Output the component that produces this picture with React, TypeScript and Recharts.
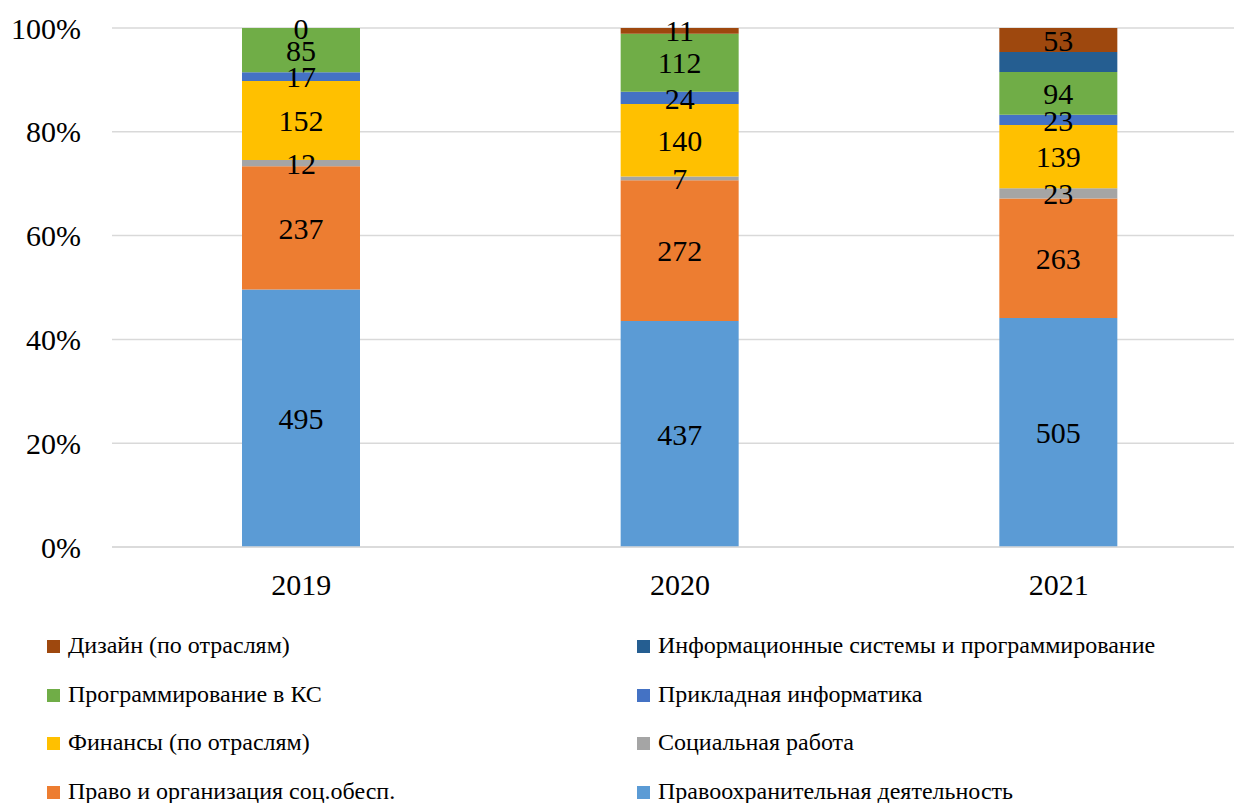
import { BarChart, Bar, XAxis, YAxis, CartesianGrid, LabelList } from "recharts";

const years = ["2019", "2020", "2021"];

// series listed bottom to top of the stack
const lawEnforcement = [495, 437, 505];
const socialLaw = [237, 272, 263];
const socialWork = [12, 7, 23];
const finance = [152, 140, 139];
const appliedIT = [17, 24, 23];
const programmingCS = [85, 112, 94];
const infoSystems = [0, 0, 44];
const design = [0, 11, 53];

const yTicks = [0, 0.2, 0.4, 0.6, 0.8, 1];

const series = [
    { key: "lawEnforcement", name: "Правоохранительная деятельность", color: "#5B9BD5", values: lawEnforcement, label: true },
    { key: "socialLaw", name: "Право и организация соц.обесп.", color: "#ED7D31", values: socialLaw, label: true },
    { key: "socialWork", name: "Социальная работа", color: "#A5A5A5", values: socialWork, label: true },
    { key: "finance", name: "Финансы (по отраслям)", color: "#FFC000", values: finance, label: true },
    { key: "appliedIT", name: "Прикладная информатика", color: "#4472C4", values: appliedIT, label: true },
    { key: "programmingCS", name: "Программирование в КС", color: "#70AD47", values: programmingCS, label: true },
    { key: "infoSystems", name: "Информационные системы и программирование", color: "#255E91", values: infoSystems, label: false },
    { key: "design", name: "Дизайн (по отраслям)", color: "#9E480E", values: design, label: true },
];

// legend rows: left column / right column
const legendRows = [
    ["design", "infoSystems"],
    ["programmingCS", "appliedIT"],
    ["finance", "socialWork"],
    ["socialLaw", "lawEnforcement"],
];

const data = years.map((year, i) => {
    const row = { year };
    series.forEach((s) => {
        row[s.key] = s.values[i];
    });
    return row;
});

const FONT = "serif";

// recharts drops zero-height segments, so a zero "Дизайн" value sitting on top of
// the green segment gets its label drawn from the green bar's top edge
const ZeroDesignLabel = (props) => {
    const { x, y, width, index } = props;
    if (design[index] !== 0 || infoSystems[index] !== 0) return null;
    return (
        <text
            x={x + width / 2}
            y={y}
            textAnchor="middle"
            dominantBaseline="central"
            fill="#000"
            fontSize={30}
            style={{ fontFamily: FONT }}
        >
            {design[index]}
        </text>
    );
};

const App = () => {
    return (
        <div
            style={{
                position: "relative",
                marginLeft: -8,
                marginTop: -8,
                width: 1242,
                height: 803,
                overflow: "hidden",
                fontFamily: FONT,
            }}
        >
            <BarChart
                width={1260}
                height={610}
                data={data}
                stackOffset="expand"
                margin={{ top: 28, right: 12, bottom: 3, left: 0 }}
                style={{ fontFamily: FONT }}
            >
                <CartesianGrid vertical={false} stroke="#d9d9d9" strokeWidth={1.5} />
                <XAxis
                    dataKey="year"
                    axisLine={{ stroke: "#d9d9d9", strokeWidth: 1.5 }}
                    tickLine={false}
                    tickMargin={21}
                    height={60}
                    tick={{ fill: "#000", fontSize: 30, style: { fontFamily: FONT } }}
                />
                <YAxis
                    width={112}
                    domain={[0, 1]}
                    ticks={yTicks}
                    axisLine={false}
                    tickLine={false}
                    tickMargin={25}
                    tickFormatter={(v) => `${Math.round(v * 100)}%`}
                    tick={{ fill: "#000", fontSize: 30, style: { fontFamily: FONT } }}
                />
                {series.map((s) => (
                    <Bar
                        key={s.key}
                        dataKey={s.key}
                        name={s.name}
                        stackId="a"
                        fill={s.color}
                        barSize={118}
                        isAnimationActive={false}
                    >
                        {s.label && (
                            <LabelList
                                dataKey={s.key}
                                position="center"
                                fill="#000"
                                fontSize={30}
                                style={{ fontFamily: FONT }}
                            />
                        )}
                        {s.key === "programmingCS" && <LabelList dataKey={s.key} content={ZeroDesignLabel} />}
                    </Bar>
                ))}
            </BarChart>

            {legendRows.map((row, r) =>
                row.map((key, c) => {
                    const s = series.find((x) => x.key === key);
                    return (
                        <div
                            key={key}
                            style={{
                                position: "absolute",
                                left: c === 0 ? 47 : 637,
                                top: 645 + r * 48.5 - 15,
                                height: 30,
                                lineHeight: "30px",
                                fontSize: 24,
                                fontFamily: FONT,
                                color: "#000",
                                whiteSpace: "nowrap",
                            }}
                        >
                            <span
                                style={{
                                    display: "inline-block",
                                    width: 13,
                                    height: 13,
                                    background: s.color,
                                    marginRight: 8,
                                }}
                            />
                            {s.name}
                        </div>
                    );
                })
            )}
        </div>
    );
};

export default App;
